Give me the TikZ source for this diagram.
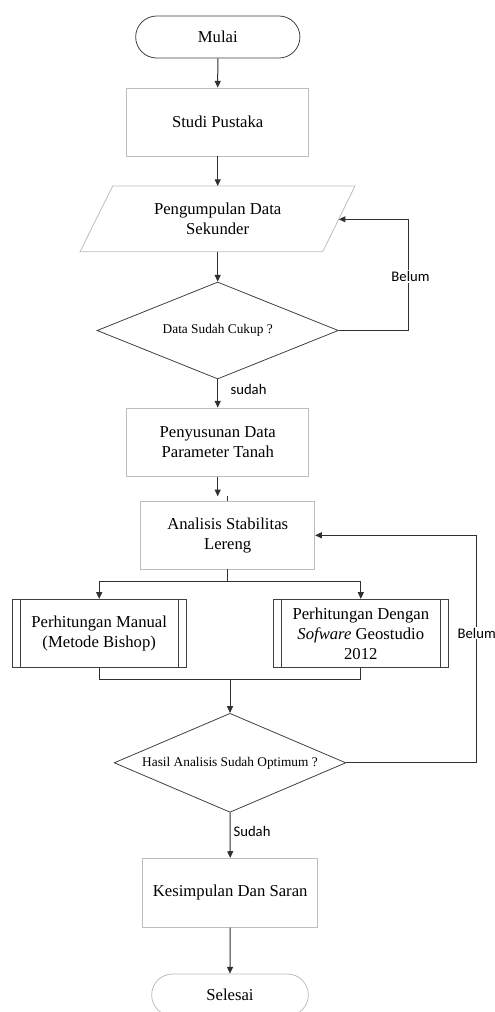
\documentclass[tikz,border=0pt]{standalone}
\usepackage{fontspec}
\setmainfont{Liberation Serif}
\newfontfamily\calfont{Carlito}
\usetikzlibrary{shapes.geometric,shapes.misc,arrows.meta}
\definecolor{lightedge}{HTML}{BDBDBD}
\definecolor{darkedge}{HTML}{404040}
\definecolor{lineclr}{HTML}{303030}
\begin{document}
\begin{tikzpicture}[x=0.75pt,y=-0.75pt,
  txt/.style={font=\fontsize{12.5}{15}\selectfont, align=center, inner sep=0pt},
  lightbox/.style={txt, draw=lightedge, line width=0.6pt, rectangle},
  procbox/.style={txt, draw=darkedge, line width=0.6pt, rectangle, minimum height=51.3pt},
  term/.style={txt, rounded rectangle, line width=0.6pt, minimum height=31.5pt},
  decision/.style={diamond, draw=darkedge, line width=0.6pt, inner sep=0pt, font=\fontsize{10}{12}\selectfont},
  lbl/.style={font=\calfont\fontsize{11}{13}\selectfont, inner sep=1pt},
  arr/.style={draw=lineclr, line width=0.75pt, -{Triangle[length=5pt,width=4.5pt]}},
  ln/.style={draw=lineclr, line width=0.75pt}
]
\useasboundingbox (0,0) rectangle (495,1012);

% nodes
\node[term, draw=darkedge, minimum width=123.2pt] (mulai) at (217.8,37) {Mulai};
\node[lightbox, minimum width=136.5pt, minimum height=51pt] (studi) at (217.7,122) {Studi Pustaka};
\node[txt] (pengumpulan) at (217.7,219) {Pengumpulan Data\\Sekunder};
\draw[draw=lightedge, line width=0.6pt] (112.7,186) -- (355,186) -- (322.7,251.7) -- (80,251.7) -- cycle;
\coordinate (pgtop) at (217.7,186);
\coordinate (pgbot) at (217.7,251.7);
\coordinate (pgright) at (338.8,219.3);
\node[decision, aspect=2.488, minimum width=181pt, minimum height=72.75pt] (cukup) at (217.7,330.5) {Data Sudah Cukup ?};
\node[lightbox, minimum width=136.5pt, minimum height=51.5pt] (penyusunan) at (217.7,442.3) {Penyusunan Data\\Parameter Tanah};
\node[lightbox, minimum width=130.5pt, minimum height=50.5pt] (analisis) at (227.7,535.3) {Analisis Stabilitas\\Lereng};
\node[procbox, minimum width=130.3pt] (manual) at (99.2,633.5) {Perhitungan Manual\\(Metode Bishop)};
\node[procbox, minimum width=131.25pt] (software) at (360.8,633.5) {Perhitungan Dengan\\\textit{Sofware} Geostudio\\2012};
\node[decision, aspect=2.341, minimum width=173.8pt, minimum height=74.25pt] (optimum) at (230,762.8) {Hasil Analisis Sudah Optimum ?};
\node[lightbox, minimum width=131.25pt, minimum height=51.75pt] (kesimpulan) at (230.2,892.8) {Kesimpulan Dan Saran};
\node[term, draw=lightedge, minimum width=117.5pt] (selesai) at (230,995) {Selesai};

% double bars of predefined process boxes
\foreach \n in {manual,software}{
  \draw[draw=darkedge, line width=0.6pt] ([xshift=6.3pt]\n.north west) -- ([xshift=6.3pt]\n.south west);
  \draw[draw=darkedge, line width=0.6pt] ([xshift=-6.3pt]\n.north east) -- ([xshift=-6.3pt]\n.south east);
}

% connectors
\draw[arr] (mulai.south) -- (studi.north);
\draw[arr] (studi.south) -- (pgtop);
\draw[arr] (pgbot) -- (cukup.north);
\draw[arr] (cukup.south) -- (penyusunan.north);
\coordinate (gap) at (217.7,496.3);
\draw[arr] (penyusunan.south) -- (gap);
\draw[ln] (analisis.north) -- (analisis.north |- gap);
\coordinate (split) at (227.7,581.7);
\draw[ln] (analisis.south) -- (split);
\draw[arr] (split) -| (manual.north);
\draw[arr] (split) -| (software.north);
\coordinate (merge) at (230,679.3);
\draw[ln] (manual.south) -- (manual.south |- merge) -- (software.south |- merge) -- (software.south);
\draw[arr] (merge) -- (optimum.north);
\draw[arr] (optimum.south) -- (kesimpulan.north);
\draw[arr] (kesimpulan.south) -- (selesai.north);

% loops
\coordinate (loop1) at (408.3,330.5);
\draw[arr] (cukup.east) -- (loop1) |- (pgright);
\node[lbl, fill=white] (belum1) at (410.5,276.5) {Belum};
\coordinate (loop2) at (476.7,762.8);
\draw[arr] (optimum.east) -- (loop2) |- (analisis.east);
\node[lbl, fill=white] (belum2) at (476.7,633) {Belum};

% labels
\node[lbl, anchor=west] (sudah1) at (229,389) {sudah};
\node[lbl, anchor=west] (sudah2) at (232,831.7) {Sudah};
\end{tikzpicture}
\end{document}
